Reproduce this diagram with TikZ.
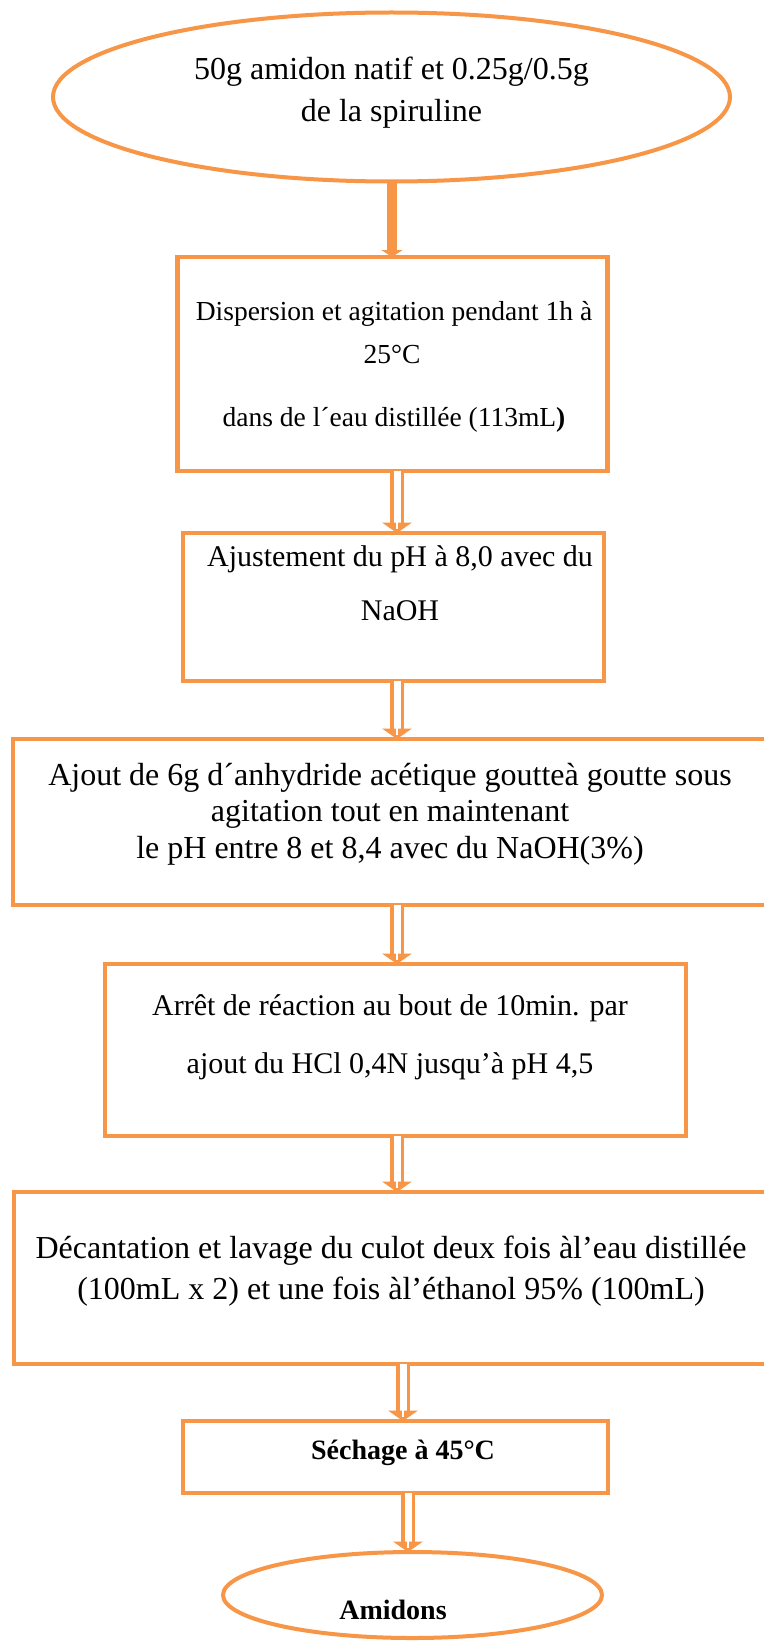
\documentclass[tikz,border=0pt]{standalone}
\usepackage{fontspec}
\setmainfont{Liberation Serif}
\usetikzlibrary{shapes.geometric,arrows.meta,calc}
\definecolor{flowor}{HTML}{F79646}
\newcommand\flowdbl[3]{%
  \draw[dbl] (#1.south -| #3) -- ($(#2.north -| #3)+(0,-10)$);
  \fill[flowor] ($(#2.north -| #3)+(-15,-10.5)$) -- ($(#2.north -| #3)+(15,-10.5)$) -- (#2.north -| #3) -- cycle;
  \draw[white, line width=2pt] ($(#2.north -| #3)+(0,-11)$) -- ($(#2.north -| #3)+(0,-4)$);
}
\begin{document}
\begin{tikzpicture}[x=1pt,y=-1pt,
  box/.style={draw=flowor, line width=4.5pt, rectangle, inner sep=0pt, outer sep=0pt},
  oval/.style={draw=flowor, line width=4pt, ellipse, inner sep=0pt, outer sep=0pt},
  txt/.style={anchor=base, inner sep=0pt, font=\fontsize{32}{38}\selectfont},
  stxt/.style={anchor=base, inner sep=0pt, font=\fontsize{27.5}{33}\selectfont},
  mtxt/.style={anchor=base, inner sep=0pt, font=\fontsize{30}{36}\selectfont},
  btxt/.style={anchor=base, inner sep=0pt, font=\fontsize{28}{34}\selectfont\bfseries},
  dbl/.style={draw=flowor, line width=3.5pt, double=white, double distance=7pt},
  thick arrow/.style={draw=flowor, line width=10pt, -{Triangle[width=21pt,length=7pt]}},
]
\useasboundingbox (0,0) rectangle (763,1648);
\fill[white] (0,0) rectangle (763,1648);

% shapes
\node[oval, minimum width=677pt, minimum height=169pt] (e1) at (391.5,97) {};
\node[box, minimum width=430pt, minimum height=214pt] (b1) at (392.5,364) {};
\node[box, minimum width=421pt, minimum height=148pt] (b2) at (393.5,607) {};
\node[box, minimum width=787pt, minimum height=166pt] (b3) at (406.5,822) {};
\node[box, minimum width=581pt, minimum height=172pt] (b4) at (395.5,1050) {};
\node[box, minimum width=786pt, minimum height=172pt] (b5) at (407,1278) {};
\node[box, minimum width=425pt, minimum height=72pt] (b6) at (395.5,1457) {};
\node[oval, minimum width=379pt, minimum height=86pt] (e2) at (412.5,1595) {};

% texts
\node[txt] (t1a) at (391.5,80) {50g amidon natif et 0.25g/0.5g};
\node[txt] (t1b) at (391.5,122) {de la spiruline};
\node[stxt] (t2a) at (394,320) {Dispersion et agitation pendant 1h à};
\node[stxt] (t2b) at (392,363) {25°C};
\node[stxt] (t2c) at (394,426) {dans de l´eau distillée (113mL\textbf{)}};
\node[mtxt] (t3a) at (400,566) {Ajustement du pH à 8,0 avec du};
\node[mtxt] (t3b) at (400,620) {NaOH};
\node[txt] (t4a) at (390,785) {Ajout de 6g d´anhydride acétique goutteà goutte sous};
\node[txt] (t4b) at (390,821) {agitation tout en maintenant};
\node[txt] (t4c) at (390,858) {le pH entre 8 et 8,4 avec du NaOH(3\%)};
\node[mtxt] (t5a) at (390,1015) {Arrêt de réaction au bout de 10min. par};
\node[mtxt] (t5b) at (390,1073) {ajout du HCl 0,4N jusqu’à pH 4,5};
\node[txt] (t6a) at (391,1258) {Décantation et lavage du culot deux fois àl’eau distillée};
\node[txt] (t6b) at (391,1299) {(100mL x 2) et une fois àl’éthanol 95\% (100mL)};
\node[btxt] (t7) at (403,1459) {Séchage à 45°C};
\node[btxt] (t8) at (393,1619) {Amidons};

% arrow x positions
\coordinate (x1) at (392,0);
\coordinate (x2) at (397,0);
\coordinate (x3) at (397,0);
\coordinate (x4) at (397,0);
\coordinate (x5) at (397,0);
\coordinate (x6) at (403,0);
\coordinate (x7) at (408,0);

\draw[thick arrow] (e1.south -| x1) -- (b1.north -| x1);
\flowdbl{b1}{b2}{x2}
\flowdbl{b2}{b3}{x3}
\flowdbl{b3}{b4}{x4}
\flowdbl{b4}{b5}{x5}
\flowdbl{b5}{b6}{x6}
\flowdbl{b6}{e2}{x7}
\end{tikzpicture}
\end{document}
